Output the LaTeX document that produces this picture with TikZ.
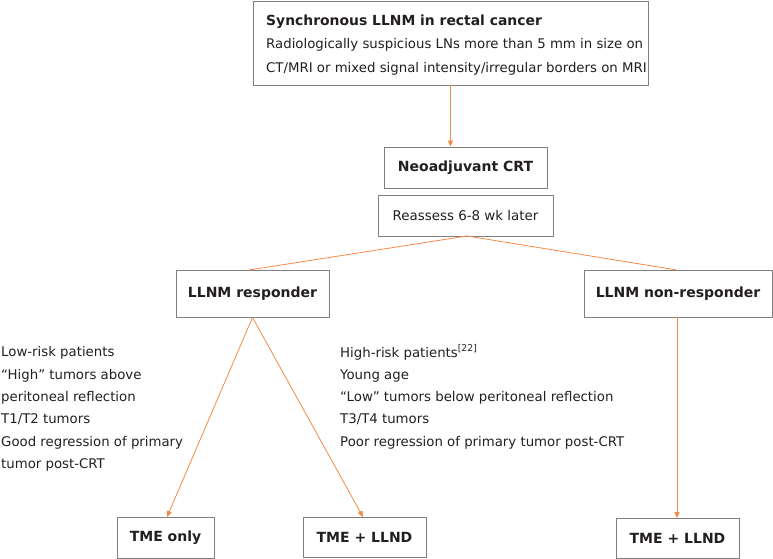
\documentclass[tikz,border=0pt]{standalone}
\usepackage{fontspec}
\setmainfont{DejaVu Sans}
\usetikzlibrary{arrows.meta}
\definecolor{arr}{HTML}{F58A45}
\definecolor{bord}{HTML}{7F7F7F}
\definecolor{txt}{HTML}{231F20}
\tikzset{
  box/.style={draw=bord, line width=0.9pt, fill=white, text=txt, inner sep=0pt, font=\fontsize{13.4}{15}\selectfont},
  bbox/.style={box, font=\fontsize{14}{16}\selectfont\bfseries},
  conn/.style={draw=arr, line width=0.8pt},
  aconn/.style={conn, -{Triangle[length=6pt,width=5pt]}},
  plain/.style={text=txt, inner sep=0pt, align=left, anchor=north west, font=\fontsize{13.3}{22.3}\selectfont},
}
\begin{document}
\begin{tikzpicture}[x=1pt,y=-1pt]
\useasboundingbox (0,0) rectangle (773,559);
\node[box, minimum width=395, minimum height=84] (top) at (450.5,43) {};
\node[plain, anchor=west, font=\fontsize{13.3}{23.5}\selectfont] (toptext) at (266,45)
  {{\fontsize{13.9}{23}\selectfont\bfseries Synchronous LLNM in rectal cancer}\\
   Radiologically suspicious LNs more than 5 mm in size on\\
   CT/MRI or mixed signal intensity/irregular borders on MRI};
\node[bbox, minimum width=163, minimum height=41] (neo) at (465.5,167.5) {Neoadjuvant CRT};
\node[box, minimum width=175, minimum height=41] (re) at (465.5,215.5) {Reassess 6-8 wk later};
\node[bbox, minimum width=153, minimum height=47] (resp) at (252.5,293.5) {LLNM responder};
\node[bbox, minimum width=188, minimum height=47] (nonr) at (678,293.5) {LLNM non-responder};
\node[bbox, minimum width=97, minimum height=41] (tme1) at (165.5,537.5) {TME only};
\node[bbox, minimum width=123, minimum height=40] (tme2) at (364.5,537) {TME + LLND};
\node[bbox, minimum width=123, minimum height=40] (tme3) at (677.5,538) {TME + LLND};
\node[plain] (low) at (1,346.5) {Low-risk patients\\“High” tumors above\\peritoneal reflection\\T1/T2 tumors\\Good regression of primary\\tumor post-CRT};
\node[plain] (high) at (340,344.5) {High-risk patients\textsuperscript{[22]}\\Young age\\“Low” tumors below peritoneal reflection\\T3/T4 tumors\\Poor regression of primary tumor post-CRT};
\coordinate (apex) at (467,236);
\draw[aconn] (top.south) -- (top.south |- neo.north);
\draw[conn] (apex) -- (249,270);
\draw[conn] (apex) -- (677,270);
\draw[aconn] (resp.south) -- (167,517);
\draw[aconn] (resp.south) -- (363,517);
\draw[aconn] (677,317) -- (677,518);
\end{tikzpicture}
\end{document}
